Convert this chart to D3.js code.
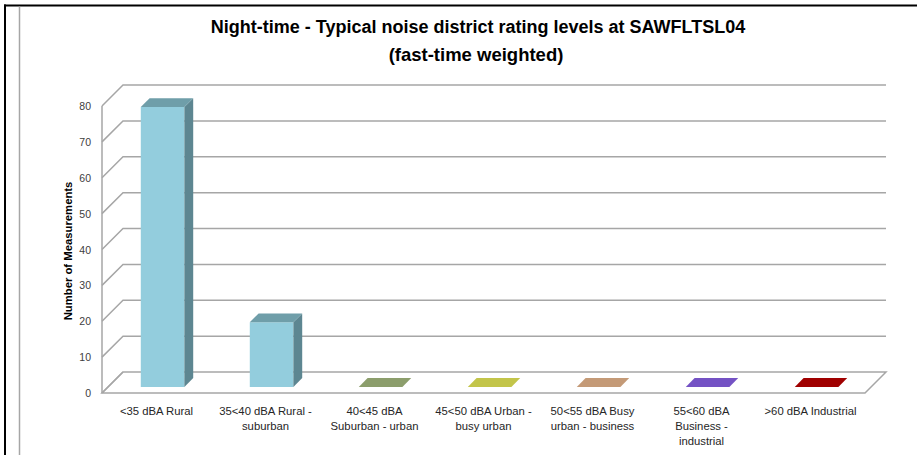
<!DOCTYPE html>
<html>
<head>
<meta charset="utf-8">
<script src="https://cdn.jsdelivr.net/npm/d3@7"></script>
<style>
  body { margin: 0; background: #fff; }
  text { font-family: "Liberation Sans", Arial, sans-serif; }
</style>
</head>
<body>
<div id="chart"></div>
<script>
// Night-time noise district ratings - counts per category
const categories = [
  '<35 dBA Rural',
  '35<40 dBA Rural - suburban',
  '40<45 dBA Suburban - urban',
  '45<50 dBA Urban - busy urban',
  '50<55 dBA Busy urban - business',
  '55<60 dBA Business - industrial',
  '>60 dBA Industrial'
];
const tickLabels = [
  ['<35 dBA Rural'],
  ['35<40 dBA Rural -', 'suburban'],
  ['40<45 dBA', 'Suburban - urban'],
  ['45<50 dBA Urban -', 'busy urban'],
  ['50<55 dBA Busy', 'urban - business'],
  ['55<60 dBA', 'Business  -', 'industrial'],
  ['>60 dBA Industrial']
];
const values = [78, 18, 0, 0, 0, 0, 0];
const yTicks = [0, 10, 20, 30, 40, 50, 60, 70, 80];

const barColors = [
  { front: '#93cddd', top: '#6f9ea9', side: '#5d8691' },
  { front: '#93cddd', top: '#6f9ea9', side: '#5d8691' },
  { front: '#9bb16f', top: '#8c9e6c', side: '#74845a' },
  { front: '#d2d456', top: '#c3c54a', side: '#a3a43e' },
  { front: '#d3a882', top: '#c49a77', side: '#a38062' },
  { front: '#8060d2', top: '#7452c4', side: '#5f43a3' },
  { front: '#b00000', top: '#a00000', side: '#850000' }
];

const width = 917;
const height = 455;
const depth = 21;          // floor / wall depth offset in px
const z0 = 0.29, z1 = 0.71; // bar sits in middle of depth

const svg = d3.select('#chart').append('svg')
  .attr('width', width)
  .attr('height', height);

// outer frame
svg.append('line').attr('x1', 4).attr('x2', width).attr('y1', 5.5).attr('y2', 5.5)
  .attr('stroke', '#000').attr('stroke-width', 2);
svg.append('line').attr('x1', 5).attr('x2', 5).attr('y1', 4.5).attr('y2', height)
  .attr('stroke', '#000').attr('stroke-width', 2);
svg.append('line').attr('x1', 19.5).attr('x2', 19.5).attr('y1', 6.5).attr('y2', height)
  .attr('stroke', '#a6a6a6').attr('stroke-width', 1.5);

// title
svg.append('text')
  .attr('x', 478).attr('y', 33)
  .attr('text-anchor', 'middle')
  .attr('font-size', 18).attr('font-weight', 'bold').attr('fill', '#000')
  .text('Night-time - Typical noise district rating levels at SAWFLTSL04');
svg.append('text')
  .attr('x', 476).attr('y', 61)
  .attr('text-anchor', 'middle')
  .attr('font-size', 18.5).attr('font-weight', 'bold').attr('fill', '#000')
  .text('(fast-time weighted)');

// scales (front plane)
const x = d3.scaleBand()
  .domain(categories)
  .range([102, 865]);

const y = d3.scaleLinear()
  .domain([0, 80])
  .range([393, 106]);

const px = (xv, z) => xv + z * depth;
const py = (yv, z) => yv - z * depth;

const x0 = x.range()[0], x1 = x.range()[1];

// floor
svg.append('path')
  .attr('d', `M${x0},${y(0)} L${x1},${y(0)} L${px(x1, 1)},${py(y(0), 1)} L${px(x0, 1)},${py(y(0), 1)} Z`)
  .attr('fill', 'none')
  .attr('stroke', '#a6a6a6')
  .attr('stroke-width', 1.5);

// gridlines: side wall diagonal + back wall horizontal
const grid = svg.append('g');
yTicks.filter(t => t > 0).forEach(t => {
  grid.append('path')
    .attr('d', `M${x0},${y(t)} L${px(x0, 1)},${py(y(t), 1)} L${px(x1, 1)},${py(y(t), 1)}`)
    .attr('fill', 'none')
    .attr('stroke', '#a6a6a6')
    .attr('stroke-width', 1.5);
});
grid.append('line')
  .attr('x1', x0).attr('x2', px(x0, 1))
  .attr('y1', y(0)).attr('y2', py(y(0), 1))
  .attr('stroke', '#a6a6a6').attr('stroke-width', 1.5);
// front vertical axis line
grid.append('line')
  .attr('x1', x0).attr('x2', x0)
  .attr('y1', y(80)).attr('y2', y(0))
  .attr('stroke', '#a6a6a6').attr('stroke-width', 1.5);

// y tick labels
svg.append('g')
  .selectAll('text')
  .data(yTicks)
  .join('text')
  .attr('x', 91)
  .attr('y', d => y(d) + 4)
  .attr('text-anchor', 'end')
  .attr('font-size', 10.5)
  .attr('fill', '#404040')
  .text(d => d);

// y axis title
svg.append('text')
  .attr('transform', `translate(72,251) rotate(-90)`)
  .attr('text-anchor', 'middle')
  .attr('font-size', 11.3)
  .attr('font-weight', 'bold')
  .attr('fill', '#000')
  .text('Number of Measurements');

// bars
const barW = x.bandwidth() * 0.4;
const bars = svg.append('g')
  .selectAll('g')
  .data(categories.map((c, i) => ({ c, v: values[i], col: barColors[i] })))
  .join('g');

bars.each(function (d) {
  const g = d3.select(this);
  const bl = x(d.c) + (x.bandwidth() - barW) / 2;
  const br = bl + barW;
  const yt = y(d.v), yb = y(0);
  if (d.v > 0) {
    // front face
    g.append('path')
      .attr('d', `M${px(bl, z0)},${py(yt, z0)} L${px(br, z0)},${py(yt, z0)} L${px(br, z0)},${py(yb, z0)} L${px(bl, z0)},${py(yb, z0)} Z`)
      .attr('fill', d.col.front);
    // right side
    g.append('path')
      .attr('d', `M${px(br, z0)},${py(yt, z0)} L${px(br, z1)},${py(yt, z1)} L${px(br, z1)},${py(yb, z1)} L${px(br, z0)},${py(yb, z0)} Z`)
      .attr('fill', d.col.side);
  }
  // top face
  g.append('path')
    .attr('d', `M${px(bl, z0)},${py(yt, z0)} L${px(br, z0)},${py(yt, z0)} L${px(br, z1)},${py(yt, z1)} L${px(bl, z1)},${py(yt, z1)} Z`)
    .attr('fill', d.col.top);
});

// category labels
const catG = svg.append('g')
  .selectAll('text')
  .data(categories)
  .join('text')
  .attr('text-anchor', 'middle')
  .attr('font-size', 11.3)
  .attr('fill', '#262626')
  .attr('transform', d => `translate(${x(d) + x.bandwidth() / 2},414.5)`);

catG.selectAll('tspan')
  .data((d, i) => tickLabels[i])
  .join('tspan')
  .attr('x', 0)
  .attr('dy', (d, i) => i === 0 ? 0 : 15)
  .text(d => d);
</script>
</body>
</html>
